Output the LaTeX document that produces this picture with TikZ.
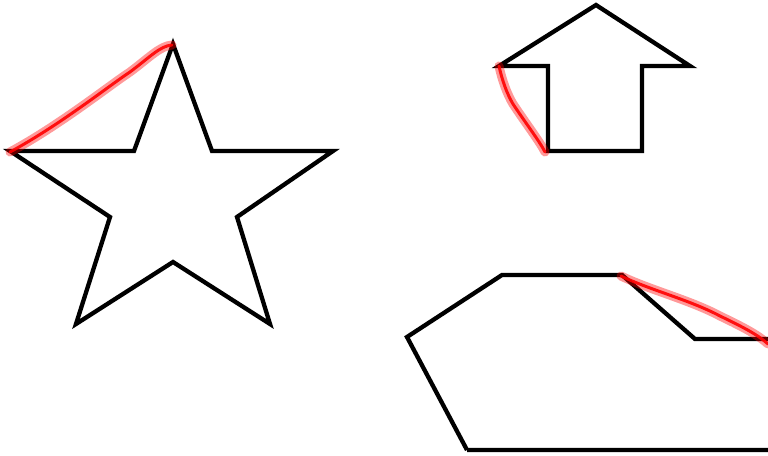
\documentclass[tikz,border=0pt]{standalone}
\usepackage{tikz}
\begin{document}
\begin{tikzpicture}[
  x=1pt, y=-1pt,
  outline/.style={draw=black, line width=4.3pt, line join=miter},
  glow/.style={draw=red, opacity=0.4, line width=9pt, line cap=round, line join=round},
  hilite/.style={draw=red, opacity=0.9, line width=3pt, line cap=round, line join=round}
]
\useasboundingbox (0,0) rectangle (768,455);
\clip (0,0) rectangle (768,455);

% star
\draw[outline] (173,44) -- (134,151) -- (10,151) -- (110,217) -- (76,324)
  -- (173,262) -- (270,324) -- (237,217) -- (333,151) -- (212,151) -- cycle;

% arrow
\draw[outline] (596,5) -- (690,66) -- (642,66) -- (642,151) -- (548,151)
  -- (548,66) -- (499,66) -- cycle;

% cut shape (runs off the right edge)
\draw[outline] (467,450) -- (407,337) -- (502,275) -- (622,275) -- (695,339)
  -- (790,339) (790,450) -- (467,450);

% red strokes
\foreach \s in {glow,hilite} {
  \draw[\s] (10,152) .. controls (60,125) and (110,85) .. (130,72)
    .. controls (150,57) and (160,46) .. (172,45);
  \draw[\s] (499,66) .. controls (502,80) and (507,94) .. (513,104)
    .. controls (527,125) and (540,142) .. (545,152);
  \draw[\s] (621,276) .. controls (650,290) and (690,300) .. (720,316)
    .. controls (745,328) and (758,335) .. (768,344);
}
\end{tikzpicture}
\end{document}
